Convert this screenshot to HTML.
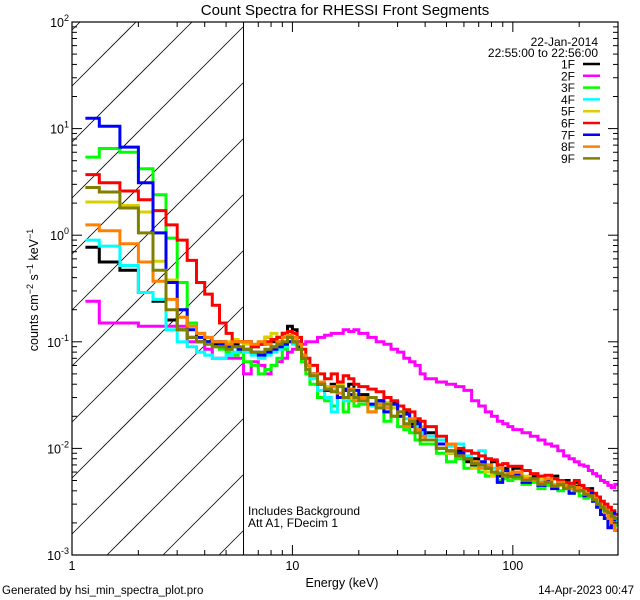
<!DOCTYPE html>
<html><head><meta charset="utf-8"><style>
html,body{margin:0;padding:0;background:#fff;width:640px;height:600px;overflow:hidden;}
svg{display:block;font-family:"Liberation Sans",sans-serif;position:absolute;left:0;top:0;overflow:hidden;}
</style></head><body>
<svg id="chart" width="640" height="600" viewBox="0 0 640 600" xmlns="http://www.w3.org/2000/svg">
<rect x="0" y="0" width="640" height="600" fill="#fff"/>
<text x="345" y="15" font-size="15" text-anchor="middle">Count Spectra for RHESSI Front Segments</text>
<text x="342" y="587" font-size="12.5" text-anchor="middle">Energy (keV)</text>
<text transform="translate(38,290) rotate(-90)" font-size="12.5" text-anchor="middle">counts cm<tspan baseline-shift="super" font-size="9">−2</tspan> s<tspan baseline-shift="super" font-size="9">−1</tspan> keV<tspan baseline-shift="super" font-size="9">−1</tspan></text>
<text x="2" y="594" font-size="11.5">Generated by hsi_min_spectra_plot.pro</text>
<text x="634" y="594" font-size="11.5" text-anchor="end">14-Apr-2023 00:47</text>
<text x="248" y="515" font-size="12">Includes Background</text>
<text x="248" y="527" font-size="12">Att A1, FDecim 1</text>
<text x="598" y="46" font-size="12" text-anchor="end">22-Jan-2014</text>
<text x="598" y="57" font-size="12" text-anchor="end">22:55:00 to 22:56:00</text>
<g id="hatch"></g>
<g id="series"></g>
<g id="axes"></g>
<g id="legend"></g>
</svg>
<script>
const edges=[1.15,1.33,1.65,2.0,2.33,2.67,3.0,3.33,3.67,4.0,4.33,4.67,5.0,5.33,5.67,6.0,6.5,7,7.5,8,8.5,9,9.5,10,10.5,11,11.5,12,13,14,15,16,17,18,19,20,22,24,26,28,30,32,34,36,38,40,45,50,55,60,65,70,75,80,85,90,95,100,110,120,130,140,150,160,170,180,190,200,210,220,230,240,250,260,270,280,290,300];
const seriesNames=["1F","2F","3F","4F","5F","6F","7F","8F","9F"];
const seriesColors=["#000000","#ff00ff","#00ff00","#00ffff","#d8d000","#ff0000","#0000ff","#ff8000","#808000"];
const s1F=[0.77,0.56,0.47,0.29,0.24,0.16,0.13,0.11,0.10,0.10,0.095,0.1,0.09,0.095,0.10,
0.1,0.09,0.095,0.11,0.10,0.11,0.12,0.14,0.13,0.1,0.075,0.06,
0.05,0.04,0.035,0.04,0.03,0.035,0.04,0.03,
0.032,0.026,0.028,0.024,0.027,0.02,0.022,0.017,0.018,0.014,
0.014,0.01,0.009,0.0095,0.0075,0.008,0.007,0.0065,0.0075,0.0055,0.0065,0.006,
0.0065,0.005,0.0055,0.0052,0.0048,0.0055,0.0046,0.005,0.0042,0.0048,0.0044,0.0038,0.0042,0.0036,0.0032,0.003,0.0026,0.0025,0.0023,0.0022];
const s2F=[0.24,0.15,0.15,0.14,0.14,0.14,0.14,0.10,0.10,0.085,0.07,0.07,0.07,0.07,0.07,
0.05,0.065,0.06,0.05,0.06,0.065,0.07,0.08,0.085,0.1,0.095,0.1,
0.1,0.11,0.115,0.12,0.12,0.13,0.125,0.13,
0.12,0.11,0.1,0.095,0.085,0.08,0.07,0.065,0.06,0.05,
0.045,0.042,0.04,0.038,0.035,0.028,0.025,0.022,0.02,0.018,0.017,0.016,
0.015,0.014,0.013,0.012,0.011,0.0105,0.0095,0.0085,0.008,0.0075,0.007,0.0068,0.0062,0.0058,0.0055,0.005,0.0048,0.0045,0.0043,0.0046];
const s3F=[5.4,6.5,6.0,4.2,2.4,0.94,0.36,0.15,0.11,0.1,0.09,0.085,0.08,0.075,0.08,
0.065,0.06,0.05,0.055,0.06,0.07,0.085,0.1,0.1,0.085,0.065,0.05,
0.04,0.03,0.028,0.025,0.03,0.022,0.028,0.025,
0.026,0.022,0.024,0.018,0.02,0.016,0.015,0.014,0.012,0.011,
0.011,0.009,0.0075,0.008,0.0065,0.0068,0.006,0.0055,0.0058,0.005,0.0052,0.005,
0.0052,0.0046,0.0048,0.0042,0.0045,0.0044,0.004,0.0042,0.0038,0.004,0.0036,0.0034,0.0035,0.0032,0.003,0.0027,0.0025,0.0023,0.0021,0.0019];
const s4F=[0.9,0.79,0.52,0.29,0.25,0.13,0.1,0.09,0.08,0.075,0.07,0.07,0.075,0.08,0.085,
0.08,0.075,0.07,0.075,0.08,0.085,0.09,0.1,0.095,0.085,0.07,0.055,
0.045,0.035,0.03,0.022,0.03,0.028,0.032,0.03,
0.028,0.025,0.026,0.022,0.024,0.02,0.019,0.018,0.016,0.014,
0.013,0.012,0.0105,0.011,0.0085,0.009,0.0095,0.007,0.0065,0.006,0.0058,0.0055,
0.0056,0.0052,0.005,0.0048,0.005,0.0046,0.0045,0.0042,0.0044,0.004,0.0042,0.0038,0.0036,0.0034,0.0032,0.0028,0.0026,0.0024,0.0023,0.0021];
const s5F=[2.05,2.05,1.9,1.65,0.57,0.38,0.2,0.14,0.12,0.11,0.1,0.095,0.1,0.105,0.1,
0.095,0.09,0.1,0.11,0.12,0.11,0.115,0.11,0.105,0.09,0.07,0.06,
0.05,0.04,0.038,0.035,0.04,0.036,0.03,0.032,
0.03,0.03,0.025,0.027,0.024,0.02,0.023,0.018,0.015,0.016,
0.012,0.011,0.009,0.0085,0.008,0.0065,0.0072,0.006,0.0055,0.0065,0.0058,0.006,
0.0058,0.0055,0.005,0.0052,0.0048,0.0052,0.0045,0.0046,0.0043,0.0045,0.0042,0.004,0.0038,0.0036,0.0033,0.003,0.0027,0.0025,0.0024,0.0022];
const s6F=[3.7,3.1,2.6,2.15,1.7,1.25,0.9,0.58,0.36,0.28,0.22,0.15,0.12,0.1,0.1,
0.1,0.09,0.095,0.1,0.105,0.11,0.12,0.125,0.12,0.11,0.085,0.07,
0.06,0.05,0.045,0.05,0.042,0.048,0.045,0.04,
0.038,0.036,0.034,0.03,0.028,0.025,0.023,0.022,0.019,0.018,
0.016,0.013,0.011,0.01,0.0095,0.009,0.0085,0.008,0.0078,0.007,0.0072,0.0068,
0.0068,0.0062,0.0058,0.0055,0.0056,0.0052,0.005,0.0048,0.0047,0.005,0.0045,0.0042,0.004,0.0038,0.0035,0.0032,0.003,0.0028,0.0026,0.0024];
const s7F=[12.5,10.5,6.7,3.1,1.05,0.36,0.2,0.13,0.11,0.1,0.1,0.095,0.09,0.09,0.085,
0.085,0.08,0.075,0.08,0.085,0.09,0.095,0.1,0.1,0.09,0.07,0.06,
0.05,0.04,0.035,0.038,0.03,0.036,0.032,0.035,
0.03,0.026,0.028,0.022,0.026,0.02,0.021,0.016,0.017,0.015,
0.012,0.011,0.0095,0.009,0.008,0.007,0.0075,0.0065,0.006,0.0048,0.0062,0.0055,
0.0056,0.0048,0.0052,0.0045,0.005,0.0042,0.0046,0.0044,0.0038,0.0044,0.004,0.0036,0.0038,0.0032,0.0028,0.0024,0.0022,0.0018,0.0025,0.0017];
const s8F=[1.25,1.1,0.83,0.56,0.37,0.25,0.17,0.14,0.12,0.11,0.1,0.1,0.095,0.1,0.1,
0.1,0.095,0.1,0.095,0.09,0.1,0.11,0.115,0.11,0.095,0.075,0.06,
0.05,0.042,0.036,0.038,0.033,0.03,0.036,0.028,
0.03,0.022,0.026,0.024,0.02,0.022,0.016,0.019,0.015,0.013,
0.012,0.01,0.011,0.0085,0.008,0.0075,0.0065,0.007,0.006,0.0065,0.0055,0.0058,
0.006,0.0052,0.005,0.0048,0.0052,0.0045,0.0048,0.0044,0.0042,0.0043,0.004,0.0038,0.0036,0.0034,0.003,0.0028,0.0025,0.0022,0.002,0.0017];
const s9F=[2.8,2.54,1.8,1.05,0.47,0.2,0.13,0.11,0.1,0.095,0.09,0.09,0.085,0.09,0.09,
0.085,0.08,0.08,0.085,0.09,0.095,0.1,0.11,0.1,0.085,0.07,0.055,
0.048,0.04,0.036,0.034,0.038,0.03,0.035,0.03,
0.028,0.03,0.024,0.026,0.02,0.022,0.017,0.018,0.014,0.012,
0.012,0.01,0.0095,0.0085,0.008,0.0072,0.007,0.0065,0.006,0.0058,0.0056,0.0054,
0.0054,0.005,0.0052,0.0046,0.0048,0.0044,0.0046,0.0042,0.0044,0.004,0.004,0.0037,0.0036,0.0033,0.003,0.0028,0.0026,0.0025,0.0023,0.0022];
const seriesValues=[s1F,s2F,s3F,s4F,s5F,s6F,s7F,s8F,s9F];
const xTickLabels=["1","10","100"];
const yTickExponents=["-3","-2","-1","0","1","2"];

const NS="http://www.w3.org/2000/svg";
const L=72,R=618,T=22,B=555;
const XMIN=1,XMAX=300,YMIN=1e-3,YMAX=1e2;
function xs(e){return L+(Math.log10(e)-Math.log10(XMIN))/(Math.log10(XMAX)-Math.log10(XMIN))*(R-L);}
function ys(v){return B-(Math.log10(v)-Math.log10(YMIN))/(Math.log10(YMAX)-Math.log10(YMIN))*(B-T);}
function mk(tag,attrs,parent){const el=document.createElementNS(NS,tag);for(const k in attrs)el.setAttribute(k,attrs[k]);parent.appendChild(el);return el;}

const hatch=document.getElementById('hatch');
const XC=xs(6);
for(let c=30;c<B+(XC-L);c+=56){
  // line: y = c - (x - L), clipped to [L,XC] x [T,B]
  const xa=Math.max(L,L+c-B), xb=Math.min(XC,L+c-T);
  if(xb<=xa) continue;
  const ln=mk('line',{x1:xa,y1:c-(xa-L),x2:xb,y2:c-(xb-L),stroke:'#000','stroke-width':0.8},hatch);
  
  
}
const vl=mk('line',{x1:XC,y1:T,x2:XC,y2:B,stroke:'#000','stroke-width':1},hatch);



const sg=document.getElementById('series');
seriesValues.forEach((vals,i)=>{
  let d='';
  for(let j=0;j<vals.length;j++){
    const x0=xs(edges[j]),x1=Math.min(R,xs(edges[j+1])),y=Math.max(T,Math.min(B,ys(vals[j])));
    d+=(j===0?'M':'L')+x0.toFixed(1)+','+y.toFixed(1)+'L'+x1.toFixed(1)+','+y.toFixed(1);
  }
  const p=mk('path',{d:d,fill:'none',stroke:seriesColors[i],'stroke-width':3,'stroke-linejoin':'miter'},sg);
  
  
});

const ax=document.getElementById('axes');
const fr=mk('rect',{x:L,y:T,width:R-L,height:B-T,fill:'none',stroke:'#000','stroke-width':1.2},ax);


for(let dec=0;dec<3;dec++){
  for(let m=1;m<10;m++){
    const e=Math.pow(10,dec)*m;
    if(e>XMAX)break;
    const x=xs(e),len=m===1?10:5;
    const t1=mk('line',{x1:x,y1:B,x2:x,y2:B-len,stroke:'#000','stroke-width':1},ax);
    
    
    const t2=mk('line',{x1:x,y1:T,x2:x,y2:T+len,stroke:'#000','stroke-width':1},ax);
    
    
  }
}
xTickLabels.forEach(lab=>{
  const t=mk('text',{x:xs(+lab),y:B+15,'font-size':12.5,'text-anchor':'middle'},ax);
  t.textContent=lab;
  
  
});
for(let p=-3;p<2;p++){
  for(let m=1;m<10;m++){
    const v=Math.pow(10,p)*m,y=ys(v),len=m===1?10:5;
    const t1=mk('line',{x1:L,y1:y,x2:L+len,y2:y,stroke:'#000','stroke-width':1},ax);
    
    
    const t2=mk('line',{x1:R,y1:y,x2:R-len,y2:y,stroke:'#000','stroke-width':1},ax);
    
    
  }
}
yTickExponents.forEach(ex=>{
  const y=ys(Math.pow(10,+ex));
  const t=mk('text',{x:L-3,y:y+5,'font-size':12.5,'text-anchor':'end'},ax);
  
  
  const a=document.createElementNS(NS,'tspan');a.textContent='10';t.appendChild(a);
  const b=document.createElementNS(NS,'tspan');b.setAttribute('dy','-6');b.setAttribute('font-size','9');b.textContent=ex;t.appendChild(b);
});

const lg=document.getElementById('legend');
seriesNames.forEach((n,i)=>{
  const y=64+i*11.8;
  const t=mk('text',{x:575,y:y+4.5,'font-size':12,'text-anchor':'end'},lg);
  t.textContent=n;
  
  
  const l=mk('line',{x1:583,y1:y,x2:600,y2:y,stroke:seriesColors[i],'stroke-width':2.5},lg);
  
  
});
</script>
</body></html>
